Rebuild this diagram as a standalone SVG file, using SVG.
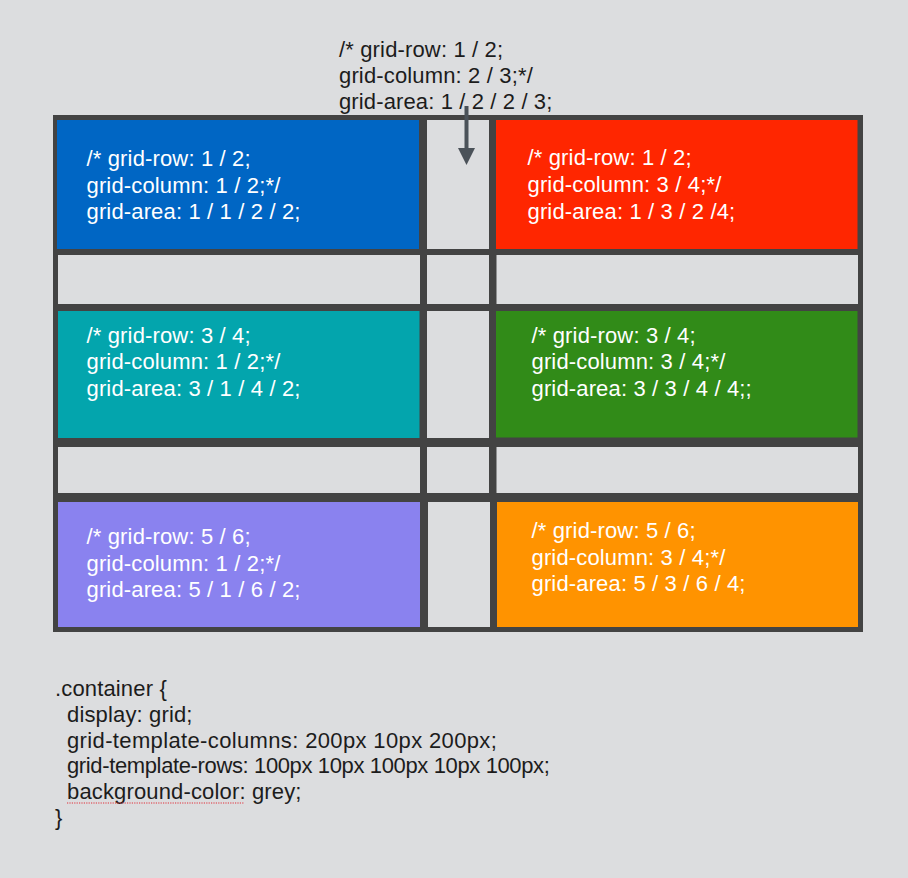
<svg xmlns="http://www.w3.org/2000/svg" width="908" height="878" viewBox="0 0 908 878">
  <style>
    .code { font-family: "Liberation Sans", Arial, Helvetica, sans-serif; font-size: 22px; letter-spacing: 0.15px; }
    .dark { fill: #1c1c1c; }
    .light { fill: #ffffff; }
    .gap { fill: #dcdddf; }
  </style>
  <defs>
    <marker id="arrowhead" markerUnits="userSpaceOnUse" markerWidth="18" markerHeight="17" viewBox="0 0 18 17" refX="0" refY="8.5" orient="auto">
      <path d="M0,0 L17,8.5 L0,17 Z" fill="#4b5259"/>
    </marker>
  </defs>

  <rect x="0" y="0" width="908" height="878" fill="#dcdddf"/>

  <g id="annotation-top">
    <text class="code dark" x="339" y="56.5">/* grid-row: 1 / 2;</text>
    <text class="code dark" x="339" y="83">grid-column: 2 / 3;*/</text>
    <text class="code dark" x="339" y="109" textLength="213.5" lengthAdjust="spacing">grid-area: 1 / 2 / 2 / 3;</text>
  </g>

  <g id="grid-frame">
    <rect x="53" y="115" width="810" height="517" fill="#434343"/>
    <rect class="gap" x="427" y="120" width="62" height="129"/>
    <rect class="gap" x="58" y="255" width="362" height="49"/>
    <rect class="gap" x="427" y="255" width="62" height="49"/>
    <rect class="gap" x="496.5" y="255" width="361.5" height="49"/>
    <rect class="gap" x="427" y="311" width="62" height="127"/>
    <rect class="gap" x="58" y="447" width="362" height="46"/>
    <rect class="gap" x="427" y="447" width="62" height="46"/>
    <rect class="gap" x="496.5" y="447" width="361.5" height="46"/>
    <rect class="gap" x="428" y="502" width="62" height="125"/>
  </g>

  <g id="item-1-1">
    <rect x="57" y="120" width="362" height="129" fill="#0066c4"/>
    <text class="code light" x="86.5" y="165.5">/* grid-row: 1 / 2;</text>
    <text class="code light" x="86.5" y="192.5">grid-column: 1 / 2;*/</text>
    <text class="code light" x="86.5" y="219">grid-area: 1 / 1 / 2 / 2;</text>
  </g>

  <g id="item-1-3">
    <rect x="496" y="120" width="361.5" height="129" fill="#ff2600"/>
    <text class="code light" x="527.5" y="165">/* grid-row: 1 / 2;</text>
    <text class="code light" x="527.5" y="191.5">grid-column: 3 / 4;*/</text>
    <text class="code light" x="527.5" y="218.5">grid-area: 1 / 3 / 2 /4;</text>
  </g>

  <g id="item-3-1">
    <rect x="58" y="311" width="361.5" height="127" fill="#03a5ad"/>
    <text class="code light" x="86.5" y="342.5">/* grid-row: 3 / 4;</text>
    <text class="code light" x="86.5" y="369">grid-column: 1 / 2;*/</text>
    <text class="code light" x="86.5" y="395.5">grid-area: 3 / 1 / 4 / 2;</text>
  </g>

  <g id="item-3-3">
    <rect x="496" y="311" width="361.5" height="126.5" fill="#318b18"/>
    <text class="code light" x="531.5" y="342.5">/* grid-row: 3 / 4;</text>
    <text class="code light" x="531.5" y="369">grid-column: 3 / 4;*/</text>
    <text class="code light" x="531.5" y="396">grid-area: 3 / 3 / 4 / 4;;</text>
  </g>

  <g id="item-5-1">
    <rect x="58" y="502" width="362" height="125" fill="#8a82ef"/>
    <text class="code light" x="86.5" y="544">/* grid-row: 5 / 6;</text>
    <text class="code light" x="86.5" y="571">grid-column: 1 / 2;*/</text>
    <text class="code light" x="86.5" y="597">grid-area: 5 / 1 / 6 / 2;</text>
  </g>

  <g id="item-5-3">
    <rect x="497" y="502" width="361" height="125" fill="#ff9300"/>
    <text class="code light" x="531.5" y="538">/* grid-row: 5 / 6;</text>
    <text class="code light" x="531.5" y="564.5">grid-column: 3 / 4;*/</text>
    <text class="code light" x="531.5" y="590.5">grid-area: 5 / 3 / 6 / 4;</text>
  </g>

  <g id="connectors">
    <line x1="466.5" y1="106" x2="466.5" y2="148" stroke="#4b5259" stroke-width="4" marker-end="url(#arrowhead)"/>
  </g>

  <g id="container-css">
    <text class="code dark" x="55" y="696">.container {</text>
    <text class="code dark" x="67" y="721.5">display: grid;</text>
    <text class="code dark" x="67" y="747.5" textLength="430" lengthAdjust="spacing">grid-template-columns: 200px 10px 200px;</text>
    <text class="code dark" x="67" y="773" textLength="483" lengthAdjust="spacing">grid-template-rows: 100px 10px 100px 10px 100px;</text>
    <text class="code dark" x="67" y="798.5">background-color: grey;</text>
    <text class="code dark" x="55" y="824.5">}</text>
    <line x1="67" y1="803" x2="244" y2="803" stroke="#e0303a" stroke-width="1.2" stroke-dasharray="1.2 1.2"/>
  </g>
</svg>
